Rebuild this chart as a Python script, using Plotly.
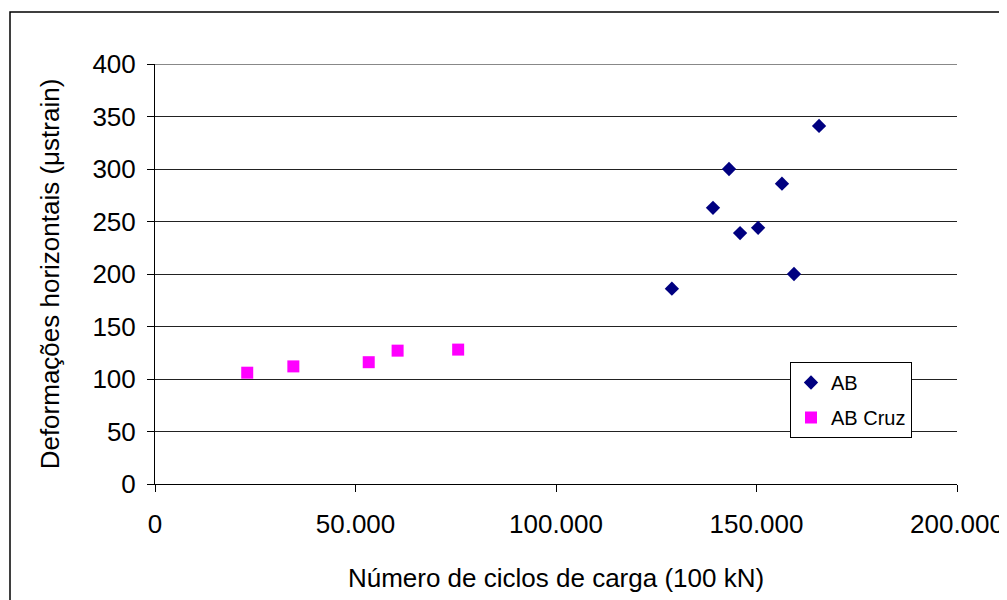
import plotly.graph_objects as go

# Data
ab_x = [128900, 139150, 143150, 145900, 150400, 156350, 159350, 165600]
ab_y = [186, 263, 300, 239, 244, 286, 200, 341]

cruz_x = [23000, 34500, 53300, 60500, 75600]
cruz_y = [106, 112, 116, 127, 128]

x_ticks = [0, 50000, 100000, 150000, 200000]
y_ticks = [0, 50, 100, 150, 200, 250, 300, 350, 400]

FONT = "Liberation Sans, Arial, sans-serif"

# the page body adds an 8px offset; plot area spans 802 x 420 px
L, T, PW, PH = 147, 56, 802, 420
W, H = 1007, 600

def px(fx):
    return (fx - L) / PW

def py(fy):
    return (T + PH - fy) / PH

fig = go.Figure()
fig.add_trace(go.Scatter(
    x=ab_x, y=ab_y, mode="markers", name="AB", legendgroup="ab",
    marker=dict(symbol="diamond", size=11, color="#000080"),
))
fig.add_trace(go.Scatter(
    x=cruz_x, y=cruz_y, mode="markers", name="AB Cruz", legendgroup="cruz",
    marker=dict(symbol="square", size=12, color="#FF00FF"),
))

fig.update_layout(
    width=W, height=H,
    margin=dict(l=L, r=W - L - PW, t=T, b=H - T - PH, autoexpand=False),
    paper_bgcolor="white", plot_bgcolor="white",
    separators=",.",
    font=dict(family=FONT, size=26, color="black"),
    showlegend=True,
    legend=dict(
        x=px(782), y=py(354), xanchor="left", yanchor="top",
        bgcolor="white", bordercolor="black", borderwidth=1,
        font=dict(family=FONT, size=20, color="black"),
        itemwidth=30, tracegroupgap=6,
    ),
    xaxis=dict(
        range=[0, 200000], tickvals=x_ticks, tickformat=",d",
        showgrid=False, zeroline=False,
        showline=True, linecolor="black", linewidth=1,
        ticks="outside", ticklen=7, tickcolor="black",
        ticklabelstandoff=10,
        tickfont=dict(size=26),
        title=dict(text="Número de ciclos de carga (100 kN)", font=dict(size=26), standoff=30),
        automargin=False,
    ),
    yaxis=dict(
        range=[0, 400], tickvals=y_ticks,
        showgrid=True, gridcolor="#222222", gridwidth=1, zeroline=False,
        showline=True, linecolor="black", linewidth=1,
        ticks="outside", ticklen=7, tickcolor="black",
        ticklabelstandoff=6,
        tickfont=dict(size=26),
        title=dict(text="Deformações horizontais (μstrain)", font=dict(size=26), standoff=25),
        automargin=False,
    ),
    shapes=[
        dict(type="rect", xref="paper", yref="paper",
             x0=px(2), x1=px(997), y0=py(610), y1=py(4),
             line=dict(color="black", width=1.5), fillcolor="rgba(0,0,0,0)", layer="below"),
        dict(type="line", xref="paper", yref="y", x0=0, x1=1, y0=400, y1=400,
             line=dict(color="#888888", width=2)),
    ],
)

fig.write_html("out.html")
